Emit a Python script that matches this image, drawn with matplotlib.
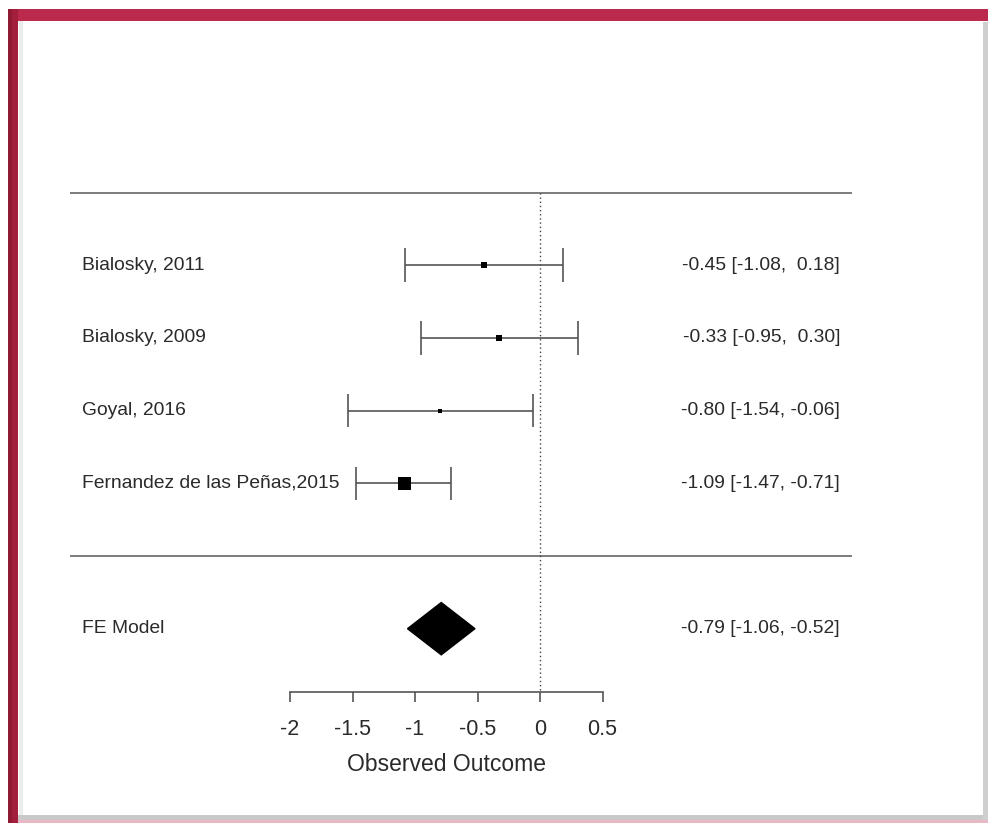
import numpy as np
import matplotlib
matplotlib.use("Agg")
import matplotlib.pyplot as plt
from matplotlib.patches import Rectangle, Polygon

plt.rcParams['font.family'] = ['Liberation Sans', 'DejaVu Sans']

# Study-level effect sizes with 95% confidence limits
studies = ["Bialosky, 2011", "Bialosky, 2009", "Goyal, 2016",
           "Fernandez de las Peñas,2015"]
est = [-0.45, -0.33, -0.80, -1.09]
lower = [-1.08, -0.95, -1.54, -1.47]
upper = [0.18, 0.30, -0.06, -0.71]

# Fixed-effect pooled estimate
model_label = "FE Model"
fe_est = -0.79
fe_lower = -1.06
fe_upper = -0.52

xticks = [-2, -1.5, -1, -0.5, 0, 0.5]
xlabel = "Observed Outcome"

W, H = 988, 823
fig = plt.figure(figsize=(W / 100, H / 100), dpi=100)
fig.patch.set_facecolor("white")


def px_rect(x0, y0, x1, y1, color, z=0):
    fig.patches.append(Rectangle((x0 / W, 1 - y1 / H), (x1 - x0) / W,
                                 (y1 - y0) / H, transform=fig.transFigure,
                                 facecolor=color, edgecolor="none", zorder=z))


# Framed panel: crimson top/left edge, grey drop shadow at right/bottom
px_rect(8, 9, 988, 21, "#bb2a4c")
px_rect(8, 9, 18, 823, "#a31f3c")
px_rect(8, 9, 12, 823, "#8e1a33")
px_rect(18, 815, 988, 820, "#c9c9c9")
px_rect(983, 22, 988, 820, "#cfcfcf")
px_rect(18, 820, 988, 823, "#e8b9c4")
px_rect(18, 21, 983, 815, "white")
px_rect(19, 21, 23, 815, "#ececec")
px_rect(23, 21, 983, 815, "white")

# Main plotting area spans the whole figure
ax = fig.add_axes([0, 0, 1, 1])
ax.set_zorder(5)
ax.set_xlim(-4.32, 3.584)
ax.set_ylim(-3.673, 7.648)
ax.axis("off")
ax.patch.set_alpha(0)

k = len(studies)
rows = np.arange(k, 0, -1)
line_col = "#555555"
txt_col = "#2a2a2a"
fs = 13.9

# separators and null line
ax.hlines([k + 1, 0], -3.76, 2.496, color="#666666", lw=1.2)
ax.vlines(0, -1.85, k + 1, color="#444444", lw=1, linestyles=(0, (1, 2)))

# inverse-variance weights set the marker sizes
se = (np.array(upper) - np.array(lower)) / 3.92
w = 1 / se ** 2
msz = 4 + (w - w.min()) / (w.max() - w.min()) * 9  # pixels

for r, name, e, lo, hi, s in zip(rows, studies, est, lower, upper, msz):
    ax.hlines(r, lo, hi, color=line_col, lw=1.2)
    ax.vlines([lo, hi], r - 0.23, r + 0.23, color=line_col, lw=1.2)
    ax.plot(e, r, marker="s", ms=s * 0.72, color="black", mec="black",
            mew=0)
    ax.text(-3.664, r, name, ha="left", va="center", fontsize=fs,
            color=txt_col)
    ax.text(2.4, r, f"{e:.2f} [{lo:.2f}, {hi:5.2f}]",
            ha="right", va="center", fontsize=fs, color=txt_col)

# pooled diamond
fe_row = -1
ax.add_patch(Polygon([(fe_lower, fe_row), (fe_est, fe_row + 0.36),
                      (fe_upper, fe_row), (fe_est, fe_row - 0.36)],
                     closed=True, facecolor="black", edgecolor="black"))
ax.text(-3.664, fe_row, model_label, ha="left", va="center", fontsize=fs,
        color=txt_col)
ax.text(2.4, fe_row, f"{fe_est:.2f} [{fe_lower:.2f}, {fe_upper:.2f}]",
        ha="right", va="center", fontsize=fs, color=txt_col)

# x axis restricted to the tick range
axx = fig.add_axes([290 / W, 1 - 692 / H, 312.5 / W, 0.0001])
axx.set_zorder(6)
axx.set_xlim(-2, 0.5)
axx.patch.set_alpha(0)
for side in ("top", "left", "right"):
    axx.spines[side].set_visible(False)
axx.spines["bottom"].set_color(line_col)
axx.spines["bottom"].set_linewidth(1.2)
axx.set_yticks([])
axx.set_xticks(xticks)
axx.set_xticklabels([f"{t:g}" for t in xticks])
axx.tick_params(axis="x", direction="out", length=7.5, width=1.2,
                color=line_col, labelsize=15.5, labelcolor=txt_col, pad=12)
axx.set_xlabel(xlabel, fontsize=16.5, color=txt_col, labelpad=9)

fig.savefig("out.png", dpi=100)
